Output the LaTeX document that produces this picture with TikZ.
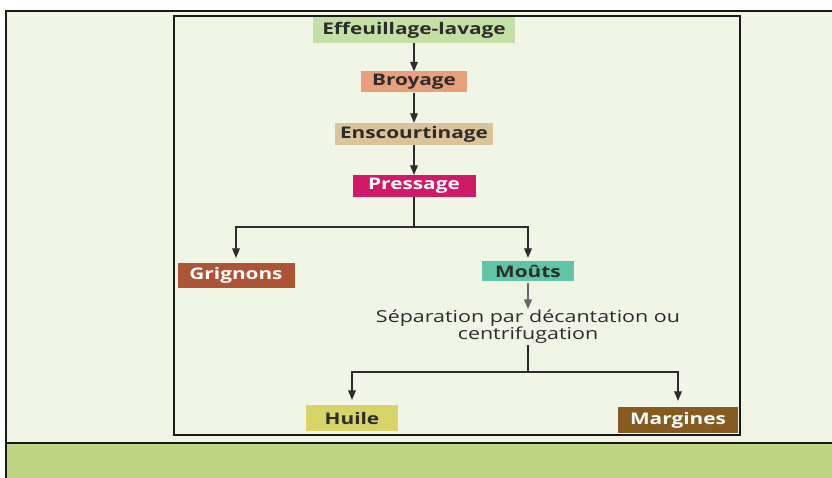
\documentclass[tikz,border=0pt]{standalone}
\usepackage{fontspec}
\setmainfont{Open Sans}[FakeStretch=1.3]
\usepackage{tikz}
\usetikzlibrary{arrows}
\definecolor{bgColor}{HTML}{F1F5E6}
\definecolor{bandColor}{HTML}{BED584}
\definecolor{effColor}{HTML}{C4E0A6}
\definecolor{broyColor}{HTML}{E8A07C}
\definecolor{enscColor}{HTML}{DCC49A}
\definecolor{pressColor}{HTML}{D01A68}
\definecolor{grigColor}{HTML}{AE5436}
\definecolor{moutColor}{HTML}{60C4A6}
\definecolor{huileColor}{HTML}{D8D468}
\definecolor{margColor}{HTML}{875A22}
\definecolor{textColor}{HTML}{2C2C2C}
\tikzstyle{stepbox}=[rectangle, inner sep=0pt, text centered, text=textColor, font=\bfseries\fontsize{16}{18}\selectfont]
\tikzstyle{stepboxWhite}=[stepbox, text=white]
\tikzstyle{arrow}=[->, >=triangle 45, line width=1.2pt, draw=textColor]
\tikzstyle{line}=[line width=1.6pt, draw=black!85]
\tikzstyle{frame}=[line width=2.8pt, draw=black!90]

\begin{document}
\begin{tikzpicture}[x=1pt, y=-1pt, node distance=52pt]
	\useasboundingbox (0,0) rectangle (832,478);
	
	% background and frames
	\fill[bgColor] (6,11) rectangle (832,443);
	\fill[bandColor] (6,443) rectangle (832,478);
	\draw[frame] (832,11) -- (6,11) -- (6,478);
	\draw[frame] (6,443) -- (832,443);
	\draw[line width=2.4pt, draw=black!90] (174,16) rectangle (740,435);
	
	\node(Effeuillage)[stepbox, fill=effColor, minimum width=202pt, minimum height=26pt] at (414,30) {Effeuillage-lavage};
	
	\node(Broyage)[stepbox, fill=broyColor, minimum width=106pt, minimum height=21pt, below of=Effeuillage] {Broyage};
	
	\node(Enscourtinage)[stepbox, fill=enscColor, minimum width=158pt, minimum height=22pt, below of=Broyage] {Enscourtinage};
	
	\node(Pressage)[stepboxWhite, fill=pressColor, minimum width=123pt, minimum height=22pt, below of=Enscourtinage] {Pressage};
	
	
	\node(Grignons)[stepboxWhite, fill=grigColor, minimum width=117pt, minimum height=25pt] at (236,275.5) {Grignons};
	
	\node(Mouts)[stepbox, fill=moutColor, minimum width=92pt, minimum height=20pt] at (528,271) {Moûts};
	
	\node(Separation)[align=center, text=textColor, font=\fontsize{16.5}{17}\selectfont, inner sep=1pt] at (528,327) {Séparation par décantation ou\\centrifugation};
	
	\node(Huile)[stepbox, fill=huileColor, minimum width=92pt, minimum height=26pt] at (352,418) {Huile};
	
	\node(Margines)[stepboxWhite, fill=margColor, minimum width=120pt, minimum height=26pt] at (678,420) {Margines};
	
	
	\coordinate(SplitPress) at (414,227);
	\coordinate(SplitSep) at (528,372);
	
	\draw [arrow] (Effeuillage) -- (Broyage);
	\draw [arrow] (Broyage) -- (Enscourtinage);
	\draw [arrow] (Enscourtinage) -- (Pressage);
	
	\draw [line] (Pressage) -- (SplitPress);
	\draw [arrow, shorten >=5pt] (SplitPress) -| (Grignons);
	\draw [arrow, shorten >=3pt] (SplitPress) -| (Mouts);
	
	\draw [arrow, draw=black!60, shorten <=2pt] (Mouts) -- (Separation);
	
	\draw [line] (Separation) -- (SplitSep);
	\draw [arrow, shorten >=5pt] (SplitSep) -| (Huile);
	\draw [arrow, shorten >=6pt] (SplitSep) -| (Margines);
	%\caption{olive oil}
\end{tikzpicture}
\end{document}
